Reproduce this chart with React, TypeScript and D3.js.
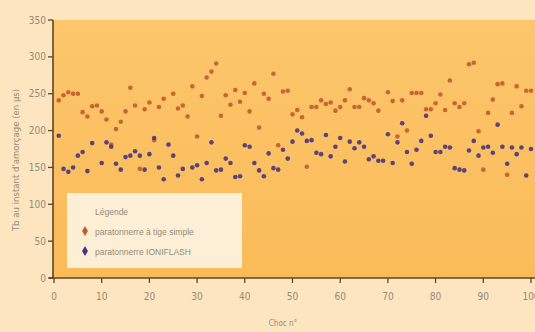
import React from "react";
import * as d3 from "d3";

const W = 535;
const H = 332;

const orangeShocks = [1,2,3,4,5,6,7,8,9,10,11,12,13,14,15,16,17,18,19,20,21,22,23,25,26,27,28,29,30,31,32,33,34,35,36,37,38,39,40,41,42,43,44,45,46,47,48,49,50,51,52,53,54,55,56,57,58,59,60,61,62,63,64,65,66,67,68,70,71,72,73,74,75,76,77,78,79,80,81,82,83,84,85,86,87,88,89,90,91,92,93,94,95,96,97,98,99,100];
const orangeValues = [241,248,252,250,250,225,219,233,234,226,215,181,202,212,226,258,234,148,229,238,187,232,243,250,230,234,219,260,192,247,272,280,291,220,248,235,255,239,251,226,264,204,250,243,277,180,253,254,222,228,218,151,232,232,241,236,238,227,232,241,256,232,232,244,241,237,227,252,240,192,241,200,251,251,251,229,229,237,249,228,268,237,232,237,290,292,199,147,224,242,263,264,140,224,260,233,254,254];

const purpleShocks = [1,2,3,4,5,6,7,8,10,11,12,13,14,15,16,17,18,19,20,21,22,23,24,25,26,27,29,30,31,32,33,34,35,36,37,38,39,40,41,42,43,44,45,46,47,48,49,50,51,52,53,54,55,56,57,58,59,60,61,62,63,64,65,66,67,68,69,70,71,72,73,74,75,76,77,78,79,80,81,82,83,84,85,86,87,88,89,90,91,92,93,94,95,96,97,98,99,100];
const purpleValues = [193,148,144,150,166,171,145,183,156,184,178,155,147,164,166,172,166,147,168,190,150,134,181,166,139,148,150,153,134,156,184,146,147,162,156,137,138,180,178,156,146,138,169,149,147,174,162,185,200,196,186,187,170,168,194,165,178,190,158,185,176,184,178,161,165,159,159,195,156,184,210,171,155,174,186,220,193,171,171,178,177,149,147,146,173,186,166,177,178,170,208,178,155,177,168,177,139,175];

const xTicks = [0,10,20,30,40,50,60,70,80,90,100];
const yTicks = [0,50,100,150,200,250,300,350];
const seriesNames = ["paratonnerre à tige simple", "paratonnerre IONIFLASH"];
const seriesColors = ["#c45a2e", "#4b3580"];
const yLabel = "Tb au instant d'amorçage (en µs)";
const xLabel = "Choc n°";
const legendTitle = "Légende";

export default function App() {
  const left = 53, right = 531, top = 20, bottom = 278;
  const x = d3.scaleLinear().domain([0, 100]).range([left + 1, right]);
  const y = d3.scaleLinear().domain([0, 350]).range([bottom, top]);
  const font = "'Liberation Sans', Arial, sans-serif";
  const narrow = "'Liberation Sans Narrow', 'DejaVu Sans Condensed', 'Liberation Sans', sans-serif";
  const textCol = "#968a78";
  const axisCol = "#5f4428";
  const orange = orangeShocks.map((s, i) => ({ s, v: orangeValues[i] }));
  const purple = purpleShocks.map((s, i) => ({ s, v: purpleValues[i] }));
  const diamond = d3.symbol().type(d3.symbolDiamond).size(30)();

  return (
    <svg width={W} height={H} style={{ position: "absolute", left: 0, top: 0 }}>
      <defs>
        <linearGradient id="plotbg" x1="0" y1="0" x2="0" y2="1">
          <stop offset="0" stopColor="#fcc66c" />
          <stop offset="1" stopColor="#fabb58" />
        </linearGradient>
      </defs>
      <rect x={0} y={0} width={W} height={H} fill="#fde5c0" />
      <rect x={left} y={top} width={W - left} height={bottom - top} fill="url(#plotbg)" />
      {/* legend */}
      <rect x={67} y={193} width={175} height={75} fill="#fdefd5" />
      <text x={95} y={215} fontFamily={font} fontSize={8.5} fill={textCol}>{legendTitle}</text>
      {seriesNames.map((n, i) => (
        <g key={n}>
          <path d={diamond} transform={`translate(85,${231 + i * 20})`} fill={seriesColors[i]} />
          <text x={95} y={234.5 + i * 20} fontFamily={font} fontSize={8.5} fill={textCol}>{n}</text>
        </g>
      ))}
      {/* points */}
      {orange.map((d) => (
        <circle key={"o" + d.s} cx={x(d.s)} cy={y(d.v)} r={2.3} fill={seriesColors[0]} opacity={0.9} />
      ))}
      {purple.map((d) => (
        <circle key={"p" + d.s} cx={x(d.s)} cy={y(d.v)} r={2.3} fill={seriesColors[1]} opacity={0.9} />
      ))}
      {/* axes */}
      <line x1={left} x2={left} y1={top} y2={bottom + 1} stroke={axisCol} strokeWidth={1.6} />
      <line x1={left - 4} x2={W} y1={bottom} y2={bottom} stroke={axisCol} strokeWidth={1.6} />
      {yTicks.map((t) => (
        <g key={"y" + t}>
          <line x1={left - 5} x2={left} y1={y(t)} y2={y(t)} stroke={axisCol} strokeWidth={1.3} />
          <text x={left - 7} y={y(t) + 3.5} textAnchor="end" fontFamily={narrow} fontSize={10} fill={textCol}>{t}</text>
        </g>
      ))}
      {xTicks.map((t) => (
        <g key={"x" + t}>
          <line x1={x(t)} x2={x(t)} y1={bottom} y2={bottom + 5} stroke={axisCol} strokeWidth={1.3} />
          <text x={x(t)} y={bottom + 22} textAnchor="middle" fontFamily={narrow} fontSize={10} fill={textCol}>{t}</text>
        </g>
      ))}
      <text x={283} y={326} textAnchor="middle" fontFamily={narrow} fontSize={8} fill={textCol}>{xLabel}</text>
      <text transform={`translate(19,${160}) rotate(-90)`} textAnchor="middle" fontFamily={narrow} fontSize={9.5} fill={textCol}>{yLabel}</text>
    </svg>
  );
}
